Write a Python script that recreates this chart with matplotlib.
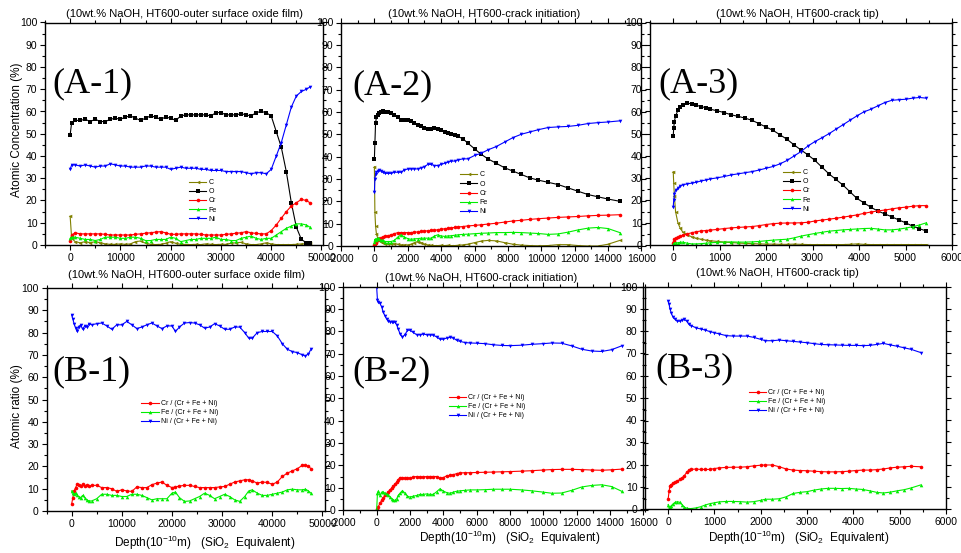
import matplotlib
matplotlib.use("Agg")
import matplotlib.pyplot as plt
from matplotlib.ticker import MultipleLocator

plt.rcParams['font.family'] = ['Liberation Sans', 'DejaVu Sans']
plt.rcParams['mathtext.fontset'] = 'custom'
plt.rcParams['mathtext.rm'] = 'Liberation Sans'
plt.rcParams['mathtext.it'] = 'Liberation Sans:italic'

# ---------------- depth profiles (atomic concentration, %) ----------------
depth_a1 = [0, 300, 1000, 2000, 3000, 4000, 5000, 6000, 7000, 8000, 9000, 10000,
            11000, 12000, 13000, 14000, 15000, 16000, 17000, 18000, 19000, 20000,
            21000, 22000, 23000, 24000, 25000, 26000, 27000, 28000, 29000, 30000,
            31000, 32000, 33000, 34000, 35000, 36000, 37000, 38000, 39000, 40000,
            41000, 42000, 43000, 44000, 45000, 46000, 47000, 47700]
c_a1 = [13, 3, 1.5, 1, 1.5, 1, 1.5, 1, 0.5, 0.3, 0.3, 0.5, 0.3, 0.5, 1.5, 1.8, 0.8,
        0.3, 0.2, 0.3, 0.8, 1.5, 0.8, 0.3, 0.2, 0.2, 0.3, 0.2, 0.5, 0.3, 0.2, 0.3,
        0.3, 0.8, 1, 1.2, 0.5, 0.2, 0.2, 0.5, 1, 0.5, 0.2, 0.2, 0.2, 0.2, 0.3, 0.5,
        0.5, 1]
o_a1 = [49.5, 55, 56, 56, 56.5, 55.5, 56.5, 55.5, 55.5, 56.5, 57, 56.5, 57.5, 58,
        57, 56, 57, 58, 57.5, 56.5, 57.5, 57, 56, 58, 58.5, 58.5, 58.5, 58.5, 58.5,
        58, 59.5, 59.5, 58.5, 58.5, 58.5, 59, 58.5, 58, 59.5, 60, 59.5, 58, 51, 44,
        33, 19, 8, 2.5, 1, 0.8]
cr_a1 = [2, 4.5, 5.5, 5, 5, 5, 5, 5, 4.8, 4.5, 4.5, 4.5, 4.5, 4.5, 4.8, 5, 5.3, 5.5,
         5.8, 6, 5.5, 4.8, 4.8, 5, 5, 5, 5, 4.8, 4.5, 4.5, 4.5, 4.5, 4.8, 5, 5.3,
         5.5, 6, 5.5, 5.2, 5, 5, 6.5, 9, 12, 15, 17.5, 19, 20.5, 20, 19]
fe_a1 = [3, 3.5, 3.5, 3, 2.5, 2.5, 2, 2.5, 3.5, 3.5, 3.5, 3, 3, 3.5, 3.5, 3, 2, 2,
         2.5, 2.5, 2.5, 3.5, 3, 1.5, 2, 2.5, 2.5, 3, 3, 3, 3.5, 2.5, 2.5, 2, 2, 3,
         3.5, 4, 3, 2.5, 3, 3, 4.5, 6, 7.5, 8.5, 9.5, 9.5, 9, 8]
ni_a1 = [34, 36, 36, 35.5, 36, 35.5, 35, 35.5, 35.5, 36.5, 36, 35.5, 35.5, 35, 35,
         35, 35.5, 35.5, 35, 35, 35, 34, 34.5, 35, 34.5, 34.5, 34.5, 34, 34, 33.5,
         33.5, 33.5, 33, 33, 33, 33, 32.5, 32, 32.5, 32.5, 32, 34, 40, 46, 54, 62,
         67, 69, 70, 71]

depth_a2 = [0, 30, 70, 120, 200, 300, 400, 500, 650, 800, 1000, 1200, 1400, 1600,
            1800, 2000, 2200, 2400, 2600, 2800, 3000, 3200, 3400, 3600, 3800, 4000,
            4200, 4400, 4600, 4800, 5000, 5300, 5600, 6000, 6400, 6800, 7300, 7800,
            8300, 8800, 9300, 9800, 10400, 11000, 11600, 12200, 12800, 13400, 14000,
            14700]
c_a2 = [35.5, 15, 9, 5.5, 3.5, 2.5, 2, 1.5, 1, 1, 1, 1, 0.8, 0.5, 0.5, 0.5, 0.8, 1.5,
        2, 1.5, 0.8, 0.5, 0.3, 0.2, 0.2, 0.3, 0.2, 0.3, 0.2, 0.2, 0.3, 0.5, 0.8, 1.5,
        2.2, 2.5, 2.3, 1.5, 0.8, 0.4, 0.2, 0.1, 0.2, 0.6, 0.6, 0.2, 0, 0, 0.8, 2.5]
o_a2 = [39, 46, 55, 57.5, 58.5, 59.5, 60, 60.2, 60, 60, 59.5, 58.5, 57.5, 56.5, 56.5,
        56.5, 56, 55, 54, 53.5, 53, 52.5, 52.5, 53, 52.5, 52, 51, 50.5, 50, 49.5, 49,
        48, 46, 43.5, 41, 39, 37, 35, 33.5, 32, 30.5, 29.5, 28.5, 27.5, 26, 24.5, 23,
        22, 21, 20]
cr_a2 = [0.5, 1, 1.5, 2, 2.5, 3, 3.5, 4, 4.3, 4.5, 5, 5.5, 6, 6, 6, 6, 6, 6.2, 6.3,
         6.5, 6.7, 6.8, 7, 7, 7.3, 7.5, 7.7, 7.9, 8.1, 8.3, 8.5, 8.7, 9, 9.2, 9.5,
         9.8, 10.2, 10.7, 11.2, 11.5, 11.9, 12.2, 12.5, 12.8, 13, 13.2, 13.5, 13.7,
         13.8, 14]
fe_a2 = [2, 3, 2.5, 3, 3.5, 3, 2.5, 2.5, 2, 2, 2, 2.5, 4, 5, 4, 3.3, 3, 3.2, 3.3, 3.5,
         3.5, 3.5, 3.5, 4.5, 5, 4.5, 4.3, 4.5, 4.6, 4.8, 5, 5.2, 5.3, 5.5, 5.7, 5.8,
         6, 6, 6.1, 6, 5.8, 5.6, 5.2, 5.4, 6.2, 7.2, 8, 8.3, 7.8, 6]
ni_a2 = [24, 30, 32, 33, 33.5, 34, 33.5, 33, 32.5, 32.5, 32.5, 33, 33, 33, 34, 34.5,
         34.5, 34.5, 34.5, 35, 35.5, 36.5, 36.5, 36, 36, 36.5, 37, 37.5, 38, 38,
         38.5, 39, 39, 40.5, 41.5, 43, 44.5, 46.5, 48.5, 50, 51, 52, 53, 53.3, 53.5,
         54, 54.8, 55.2, 55.5, 56]

depth_a3 = [0, 10, 25, 50, 100, 150, 200, 300, 400, 500, 600, 700, 800, 950, 1100,
            1250, 1400, 1550, 1700, 1850, 2000, 2150, 2300, 2450, 2600, 2750, 2900,
            3050, 3200, 3350, 3500, 3650, 3800, 3950, 4100, 4250, 4400, 4550, 4700,
            4850, 5000, 5150, 5300, 5450]
c_a3 = [33, 28, 22, 15, 10, 7.5, 6, 4.5, 3.7, 3, 2.6, 2.2, 1.9, 1.6, 1.3, 1.1, 0.9,
        0.7, 0.6, 0.5, 0.4, 0.4, 0.3, 0.3, 0.4, 0.3, 0.2, 0.2, 0.2, 0.2, 0.2, 0.2,
        0.3, 0.5, 0.3, 0.2, 0.2, 0.2, 0.2, 0.2, 0.2, 0.2, 0.2, 0.2]
o_a3 = [49, 52.5, 55.5, 58, 60.5, 62, 63, 63.7, 63.5, 62.8, 62.2, 61.7, 61, 60.3,
        59.5, 58.5, 57.8, 57, 56, 54.5, 53, 51.5, 49.5, 47.5, 45, 42.7, 40.5, 38, 35,
        32, 29.5, 27, 24, 21, 19, 17, 15.3, 14, 12.7, 11.3, 10, 8.5, 7.3, 6.3]
cr_a3 = [1, 1.8, 2.5, 3, 3.5, 4, 4.3, 5, 5.5, 6, 6.3, 6.5, 6.7, 7, 7.4, 7.7, 7.9, 8.1,
         8.3, 8.7, 9.2, 9.6, 9.8, 9.9, 9.9, 10, 10.2, 10.8, 11.2, 11.6, 12, 12.5, 13,
         13.5, 14.2, 14.8, 15.3, 15.7, 16.2, 16.7, 17, 17.4, 17.7, 17.7]
fe_a3 = [0.3, 0.5, 0.8, 1, 1, 1.2, 1.3, 0.8, 0.5, 0.5, 0.6, 0.8, 1, 1.2, 1.3, 1.4,
         1.3, 1.3, 1.4, 1.6, 1.9, 2.2, 2.4, 2.6, 3.2, 4, 4.6, 5.2, 5.7, 6.2, 6.5, 6.8,
         7, 7.2, 7.4, 7.5, 7.2, 6.8, 6.8, 7.1, 7.6, 8.2, 9, 10]
ni_a3 = [17, 20, 23, 24.5, 25.5, 26.5, 27, 27.5, 27.8, 28.2, 28.8, 29.2, 29.7, 30.2,
         30.8, 31.5, 32, 32.5, 33, 33.7, 34.5, 35.3, 36.5, 38, 40, 42, 44.5, 46.5,
         48.2, 50, 52, 54, 56, 58, 59.8, 61, 62.5, 64, 65, 65.3, 65.5, 66, 66.3, 66]

# ---------------- cation ratios (%) ----------------
depth_b1 = [0, 250, 500, 800, 1100, 1400, 1800, 2200, 2600, 3000, 3500, 4000, 5000,
            6000, 7000, 8000, 9000, 10000, 11000, 12000, 13000, 14000, 15000, 16000,
            17000, 18000, 19000, 20000, 20700, 21500, 22500, 23500, 24500, 25500,
            26500, 27500, 28500, 29500, 30500, 31500, 32500, 33500, 34500, 35300,
            36000, 37000, 38000, 39000, 40000, 41000, 42000, 43000, 44000, 45000,
            46000, 46600, 47200, 47700]
cr_b1 = [3, 6, 9, 10.5, 12, 11.5, 11, 12, 11, 11.5, 11, 11.5, 11.5, 10.5, 10.5, 10,
         8.8, 9.5, 9, 8.8, 10.8, 10.5, 10.5, 11.8, 12.5, 13, 11.5, 10.5, 10.8, 11.2,
         11.5, 11.5, 11, 10.5, 10.5, 10.5, 10.5, 10.8, 11, 12, 13, 13.5, 14, 14, 13.5,
         12.5, 13, 12.8, 12, 13, 15.5, 17, 18, 19, 20.5, 20.5, 20, 19]
fe_b1 = [9, 8, 7.5, 8, 7, 6.5, 6, 7, 6, 5, 4.5, 4.5, 5.5, 7.5, 7.5, 7, 7, 6.5, 6.5,
         7.5, 7.5, 7, 6, 5, 5.5, 5.5, 5.5, 8, 8.5, 6, 4.3, 4.5, 5.5, 6.5, 8, 7, 5.5,
         6.5, 7.5, 6.5, 5, 4.3, 6.5, 9, 9.5, 8, 7, 7, 7.5, 8, 8.5, 9.5, 9.8, 9.5,
         9.5, 9.8, 9, 8]
ni_b1 = [88, 86, 84, 82, 80.5, 82.5, 83.5, 81.5, 83, 82.5, 84, 83.5, 84, 84.3, 83,
         81.5, 83.5, 83.5, 85, 83.5, 81.8, 82.5, 83.5, 84.3, 83, 81.8, 83, 83, 80.5,
         82.5, 84.3, 84.5, 84.3, 83.5, 82, 82.5, 84, 83, 81.5, 81.5, 82.5, 82.5, 80,
         77.5, 77.5, 80, 80.5, 80.5, 80.5, 78.5, 75, 72.5, 71.5, 71, 70, 69.5, 70.5,
         72.5]

depth_b2 = [0, 50, 100, 200, 300, 400, 500, 600, 700, 800, 900, 1000, 1100, 1200,
            1300, 1400, 1550, 1700, 1850, 2000, 2200, 2400, 2600, 2800, 3000, 3200,
            3400, 3600, 3800, 4000, 4200, 4400, 4600, 4800, 5000, 5300, 5600, 6000,
            6500, 7000, 7500, 8000, 8700, 9300, 10000, 10500, 11100, 11700, 12300,
            12900, 13500, 14100, 14700]
cr_b2 = [0, 0.5, 1.5, 3, 4.3, 5.5, 6.5, 7.3, 8.2, 9, 9.8, 10.6, 11.5, 12.5, 13.6,
         14.5, 14.5, 14.3, 14.3, 14.3, 14.8, 15, 14.8, 14.8, 15, 15, 15, 15, 14.3,
         14.5, 15.3, 15.5, 15.8, 16.3, 16.6, 16.7, 16.7, 16.8, 16.9, 17, 17.1, 17.2,
         17.4, 17.6, 17.9, 18.1, 18.2, 18.2, 18.1, 17.9, 17.8, 18, 18.3]
fe_b2 = [0, 7.5, 8.5, 6.5, 8, 8, 7.5, 7, 6.5, 6, 5, 4.5, 4.3, 5, 6.5, 7.5, 8.7, 7.5,
         6.2, 5.8, 6.2, 6.5, 7, 7, 7.2, 7, 7, 8.2, 9.5, 8.5, 7.8, 7.5, 8, 8.4, 8.6,
         8.8, 9, 9, 9.1, 9.3, 9.3, 9.3, 9, 8.6, 8, 7.5, 7.6, 8.8, 10.3, 11, 11.3,
         10.5, 8.4]
ni_b2 = [100, 94, 93, 92.5, 91, 88.5, 87, 85.5, 84.5, 84.3, 84.3, 84.3, 84, 83, 81,
         79, 77.5, 78.5, 80.5, 80.5, 79.5, 78.5, 78.5, 78.8, 78.5, 78.5, 78.3, 77.5,
         76.5, 76.5, 77, 77.3, 77, 76, 75.5, 75, 74.8, 74.7, 74.5, 74, 73.7, 73.6,
         73.8, 74.2, 74.5, 74.8, 74.7, 73.5, 72, 71.2, 71, 71.8, 73.5]

depth_b3 = [0, 20, 40, 70, 100, 150, 200, 250, 300, 350, 400, 450, 500, 600, 700,
            800, 900, 1000, 1100, 1250, 1400, 1550, 1700, 1850, 2000, 2100, 2250,
            2400, 2550, 2700, 2850, 3000, 3150, 3300, 3450, 3600, 3750, 3900, 4050,
            4200, 4350, 4500, 4650, 4800, 4950, 5100, 5250, 5450]
cr_b3 = [4.5, 8, 10.5, 11, 11.5, 12, 12.5, 13.3, 14, 15, 16.5, 17.5, 17.8, 18, 17.8,
         17.8, 17.8, 18.2, 18.5, 18.7, 18.8, 18.8, 19, 19.4, 19.7, 19.8, 19.8, 19,
         18, 17.5, 17.3, 17.2, 17, 16.8, 16.7, 16.7, 16.8, 17, 17.3, 17.5, 17.5,
         17.7, 18, 18.5, 18.8, 19, 19.2, 19]
fe_b3 = [2, 0.5, 1, 1.5, 2.2, 3, 3.3, 3, 2, 0.8, 0.4, 0.2, 0.2, 0.5, 1, 1.8, 2.4,
         2.8, 3.2, 3.4, 3.4, 3.3, 3.1, 3.3, 3.9, 4.4, 4.4, 4.6, 5.5, 7, 7.5, 7.8, 8.5,
         9, 9.3, 9.3, 9.2, 9.3, 9, 8.8, 8.2, 7.5, 7.2, 7.6, 8.2, 8.7, 9.5, 10.8]
ni_b3 = [93.5, 92, 90, 88, 86.5, 85.3, 84.5, 84.5, 85, 85.3, 84.5, 83, 82.5, 81.5,
         81, 80.5, 79.8, 79.3, 78.8, 78, 77.8, 77.8, 77.8, 77.2, 76.3, 75.7, 75.7, 76,
         75.7, 75.4, 75.1, 74.8, 74.4, 74, 73.9, 73.8, 73.7, 73.6, 73.6, 73.5, 73.6,
         74, 74.5, 73.8, 73.2, 72.5, 71.8, 70.4]

element_labels = ['C', 'O', 'Cr', 'Fe', 'Ni']
ratio_labels = ['Cr / (Cr + Fe + Ni)', 'Fe / (Cr + Fe + Ni)', 'Ni / (Cr + Fe + Ni)']
titles = ['(10wt.% NaOH, HT600-outer surface oxide film)',
          '(10wt.% NaOH, HT600-crack initiation)',
          '(10wt.% NaOH, HT600-crack tip)']

# ---------------- styling ----------------
OLIVE, BLACK, RED, GREEN, BLUE = '#808000', '#000000', '#ff0000', '#00ee00', '#0000ff'
elem_style = [(OLIVE, '<'), (BLACK, 's'), (RED, 'o'), (GREEN, '^'), (BLUE, 'v')]
ratio_style = [(RED, 'o'), (GREEN, '^'), (BLUE, 'v')]

W, H = 962, 553
fig = plt.figure(figsize=(W / 100, H / 100), dpi=100)


def fx(x):
    return x / W


def fy(y):
    return 1 - y / H


def make_axes(l, t, r, b, xlim, xmaj, xmin, xticks):
    ax = fig.add_axes([fx(l), fy(b), (r - l) / W, (b - t) / H])
    ax.patch.set_alpha(0)
    ax.set_xlim(*xlim)
    ax.set_ylim(0, 100)
    ax.xaxis.set_major_locator(MultipleLocator(xmaj))
    ax.xaxis.set_minor_locator(MultipleLocator(xmin))
    ax.yaxis.set_major_locator(MultipleLocator(10))
    ax.yaxis.set_minor_locator(MultipleLocator(5))
    ax.set_xticks(xticks)
    ax.set_xticklabels([str(v) for v in xticks])
    ax.tick_params(which='both', direction='out', top=True, right=True,
                   labelsize=7.5, width=0.8, pad=2)
    ax.tick_params(which='major', length=3.5)
    ax.tick_params(which='minor', length=2)
    for s in ax.spines.values():
        s.set_linewidth(1.0)
    return ax


def plot_series(ax, x, ys, styles):
    for y, (c, m) in zip(ys, styles):
        ax.plot(x, y, color=c, marker=m, markersize=2.6, linewidth=0.8,
                markeredgewidth=0)


def add_legend(ax, labels, x, y, fs):
    ax.legend(ax.get_lines(), labels, loc='upper left',
              bbox_to_anchor=(fx(x), fy(y)), bbox_transform=fig.transFigure,
              frameon=False, fontsize=fs, handlelength=2.5, handletextpad=0.3,
              labelspacing=0.32, borderpad=0, borderaxespad=0, numpoints=1)


# ---- top row: atomic concentration ----
ax = make_axes(45, 22.5, 323, 245, (-5000, 50300), 10000, 5000,
               [0, 10000, 20000, 30000, 40000, 50000])
plot_series(ax, depth_a1, [c_a1, o_a1, cr_a1, fe_a1, ni_a1], elem_style)
add_legend(ax, element_labels, 189, 179, 5)

ax = make_axes(341, 22.5, 641.5, 246, (-2000, 16000), 2000, 1000,
               list(range(-2000, 16001, 2000)))
plot_series(ax, depth_a2, [c_a2, o_a2, cr_a2, fe_a2, ni_a2], elem_style)
add_legend(ax, element_labels, 460, 171.5, 5)

ax = make_axes(650, 22.5, 952, 245, (-500, 6000), 1000, 500,
               list(range(0, 6001, 1000)))
plot_series(ax, depth_a3, [c_a3, o_a3, cr_a3, fe_a3, ni_a3], elem_style)
add_legend(ax, element_labels, 783, 169, 5)

# ---- bottom row: cation ratio ----
ax = make_axes(46.5, 288, 325, 511, (-5000, 50500), 10000, 5000,
               [0, 10000, 20000, 30000, 40000, 50000])
plot_series(ax, depth_b1, [cr_b1, fe_b1, ni_b1], ratio_style)
add_legend(ax, ratio_labels, 141.5, 400, 5)

ax = make_axes(343.3, 286.7, 643.3, 510, (-2000, 16000), 2000, 1000,
               list(range(-2000, 16001, 2000)))
plot_series(ax, depth_b2, [cr_b2, fe_b2, ni_b2], ratio_style)
add_legend(ax, ratio_labels, 449, 394, 5)

ax = make_axes(645, 286.7, 946, 509, (-500, 6000), 1000, 500,
               list(range(0, 6001, 1000)))
plot_series(ax, depth_b3, [cr_b3, fe_b3, ni_b3], ratio_style)
add_legend(ax, ratio_labels, 749, 389, 5)

# ---- titles, axis labels, panel tags ----
for (x, y), t in zip([(184, 14), (484, 14), (797, 14)], titles):
    fig.text(fx(x), fy(y), t, ha='center', va='center', fontsize=8)
for (x, y), t in zip([(187, 275), (481, 278), (777, 273)], titles):
    fig.text(fx(x), fy(y), t, ha='center', va='center', fontsize=8)

fig.text(fx(17), fy(130), 'Atomic Concentration (%)', rotation=90,
         ha='center', va='center', fontsize=8.5)
fig.text(fx(17), fy(406), 'Atomic ratio (%)', rotation=90,
         ha='center', va='center', fontsize=8.5)

depth_label = r'Depth(10$^{\mathregular{-10}}$m)   (SiO$_{\mathregular{2}}$  Equivalent)'
for x, y in [(205, 543), (510, 538), (799, 538)]:
    fig.text(fx(x), fy(y), depth_label, ha='center', va='center', fontsize=8.5)

for tag, (x, y) in zip(['(A-1)', '(A-2)', '(A-3)', '(B-1)', '(B-2)', '(B-3)'],
                       [(92, 84), (392, 86), (699, 84), (91, 372), (392, 372),
                        (695, 369)]):
    fig.text(fx(x), fy(y), tag, ha='center', va='center', fontsize=26,
             family='Liberation Serif')

fig.savefig('out.png', dpi=100)
